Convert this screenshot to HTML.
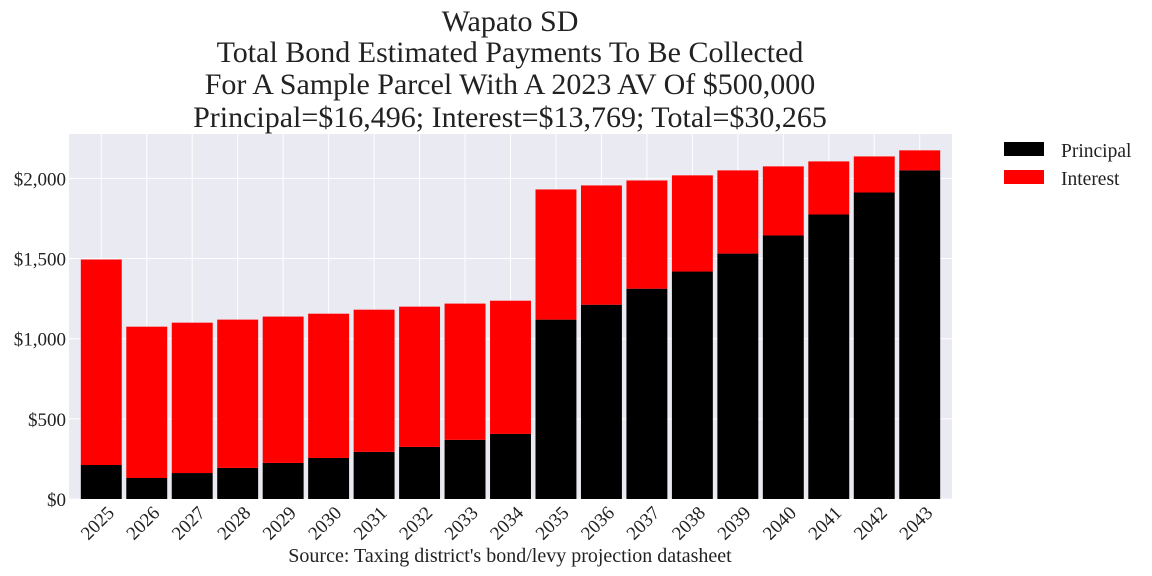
<!DOCTYPE html>
<html><head><meta charset="utf-8"><style>
body{margin:0;background:#fff}
svg{font-family:"Liberation Serif",serif;display:block}
</style></head><body>
<svg id="chart" width="1152" height="576">
<g id="title" fill="#222" font-size="30" text-anchor="middle">
<text x="510" y="31">Wapato SD</text>
<text x="510" y="62">Total Bond Estimated Payments To Be Collected</text>
<text x="510" y="94">For A Sample Parcel With A 2023 AV Of $500,000</text>
<text x="510" y="127">Principal=$16,496; Interest=$13,769; Total=$30,265</text>
</g>
<rect x="69" y="134" width="883" height="365" fill="#eaeaf2"/>
<g id="grid"></g><g id="bars"></g><g id="yticks"></g><g id="xticks"></g>
<text x="510" y="562" font-size="20" text-anchor="middle" fill="#222">Source: Taxing district's bond/levy projection datasheet</text>
<g>
<rect x="1004" y="142" width="40" height="14" fill="#000"/>
<text x="1061" y="157" font-size="19.5" fill="#222">Principal</text>
<rect x="1004" y="170" width="40" height="14" fill="#f00"/>
<text x="1061" y="185" font-size="19.5" fill="#222">Interest</text>
</g>
</svg>
<script>
const years=[2025,2026,2027,2028,2029,2030,2031,2032,2033,2034,2035,2036,2037,2038,2039,2040,2041,2042,2043];
const principal=[212,131,162,194,225,256,294,325,369,406,1119,1212,1312,1419,1531,1644,1775,1912,2050];
const totals=[1494,1075,1100,1119,1138,1156,1181,1200,1219,1237,1931,1956,1987,2019,2050,2075,2106,2137,2175];
const interest=totals.map((t,i)=>t-principal[i]);
const yTicks=[0,500,1000,1500,2000];
const yTickLabels=["$0","$500","$1,000","$1,500","$2,000"];
const NS="http://www.w3.org/2000/svg";
const x0=69,x1=952,y0=499,yTop=134,yMax=2277;
const n=years.length,pad=0.71,step=(x1-x0)/(n-1+2*pad);
function xs(i){return x0+(i+pad)*step;}
function ys(v){return y0-(y0-yTop)*v/yMax;}
function mk(tag,attrs,parent){const e=document.createElementNS(NS,tag);for(const k in attrs)e.setAttribute(k,attrs[k]);document.getElementById(parent).appendChild(e);return e;}
yTicks.forEach((v,i)=>{
 const l=mk('line',{x1:x0,x2:x1,y1:ys(v),y2:ys(v),stroke:'#fff','stroke-width':1},'grid');
 
 
 const t=mk('text',{x:x0-3,y:ys(v)+7,'font-size':19,'text-anchor':'end',fill:'#222'},'yticks');
 t.textContent=yTickLabels[i];
 
 
});
const bw=step*0.9;
years.forEach((yr,i)=>{
 const cx=xs(i);
 const g=mk('line',{x1:cx,x2:cx,y1:yTop,y2:y0,stroke:'#fff','stroke-width':1},'grid');
 
 
 const p=mk('rect',{x:cx-bw/2,y:ys(principal[i]),width:bw,height:y0-ys(principal[i]),fill:'#000'},'bars');
 
 
 const top=principal[i]+interest[i];
 const r=mk('rect',{x:cx-bw/2,y:ys(top),width:bw,height:ys(principal[i])-ys(top),fill:'#f00'},'bars');
 
 
 const tx=cx+14,ty=y0+15;
 const t=mk('text',{x:tx,y:ty,'font-size':19,'text-anchor':'end',fill:'#222',transform:`rotate(-45 ${tx} ${ty})`},'xticks');
 t.textContent=yr;
 
 
});
</script>
</body></html>
